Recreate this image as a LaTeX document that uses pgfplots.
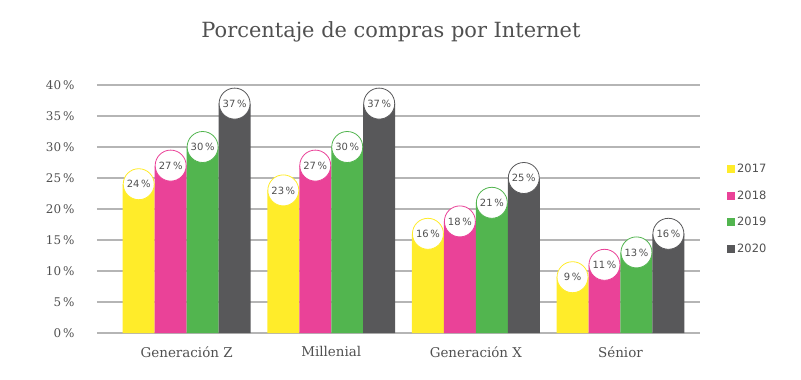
\documentclass[border=0pt]{standalone}
\usepackage{pgfplots}
\pgfplotsset{compat=1.18}
\usepackage{fontspec}
\setmainfont{DejaVu Serif}
\newfontfamily\lblfont{DejaVu Sans}
\definecolor{cY}{HTML}{FFEC2A}
\definecolor{cP}{HTML}{EA4298}
\definecolor{cG}{HTML}{52B54F}
\definecolor{cD}{HTML}{58585A}
\definecolor{txt}{HTML}{505050}
\definecolor{grd}{HTML}{B5B5B5}
\begin{document}
\begin{tikzpicture}
\path[use as bounding box] (-97bp,-47bp) rectangle (704bp,333bp);
\begin{axis}[
  at={(0,0)}, anchor=south west,
  scale only axis, width=603bp, height=248bp,
  xmin=-0.62, xmax=3.55, ymin=0, ymax=40,
  /pgf/number format/assume math mode=true,
  axis line style={draw=none},
  ytick={0,5,...,40},
  yticklabel={\pgfmathprintnumber{\tick}\,\%},
  yticklabel style={font=\fontsize{12}{14}\selectfont, text=txt, xshift=-19bp},
  xtick={0,1,2,3},
  xticklabels={Generación Z, Millenial, Generación X, Sénior},
  xticklabel style={font=\fontsize{13.5}{15}\selectfont, text=txt, yshift=-10bp},
  major tick length=0pt,
  ymajorgrids, grid style={grd, line width=1.2bp},
  clip=false,
  bar width=0.221,
  legend style={at={(1,0.5)}, anchor=west, xshift=24bp, draw=none, fill=none,
    font=\lblfont\fontsize{11.5}{13}\selectfont, text=txt, row sep=12.5bp},
  legend cell align=left,
  legend image code/.code={\fill[#1] (0bp,-4bp) rectangle (8bp,4bp);},
  every node near coord/.append style={anchor=center, font=\lblfont\fontsize{10}{12}\selectfont, text=txt},
]
\addplot[ybar, bar shift=0pt, fill=cY, draw=none] coordinates {(-0.3315,24) (0.6685,23) (1.6685,16) (2.6685,9)};
\addlegendentry{2017}
\addplot[ybar, bar shift=0pt, fill=cP, draw=none] coordinates {(-0.1105,27) (0.8895,27) (1.8895,18) (2.8895,11)};
\addlegendentry{2018}
\addplot[ybar, bar shift=0pt, fill=cG, draw=none] coordinates {(0.1105,30) (1.1105,30) (2.1105,21) (3.1105,13)};
\addlegendentry{2019}
\addplot[ybar, bar shift=0pt, fill=cD, draw=none] coordinates {(0.3315,37) (1.3315,37) (2.3315,25) (3.3315,16)};
\addlegendentry{2020}
\addplot[forget plot, only marks, mark=*, mark size=15.5bp, mark options={fill=white, draw=cY, line width=0.8bp},
  nodes near coords={\pgfmathprintnumber{\pgfplotspointmeta}\,\%}] coordinates {(-0.3315,24) (0.6685,23) (1.6685,16) (2.6685,9)};
\addplot[forget plot, only marks, mark=*, mark size=15.5bp, mark options={fill=white, draw=cP, line width=0.8bp},
  nodes near coords={\pgfmathprintnumber{\pgfplotspointmeta}\,\%}] coordinates {(-0.1105,27) (0.8895,27) (1.8895,18) (2.8895,11)};
\addplot[forget plot, only marks, mark=*, mark size=15.5bp, mark options={fill=white, draw=cG, line width=0.8bp},
  nodes near coords={\pgfmathprintnumber{\pgfplotspointmeta}\,\%}] coordinates {(0.1105,30) (1.1105,30) (2.1105,21) (3.1105,13)};
\addplot[forget plot, only marks, mark=*, mark size=15.5bp, mark options={fill=white, draw=cD, line width=0.8bp},
  nodes near coords={\pgfmathprintnumber{\pgfplotspointmeta}\,\%}] coordinates {(0.3315,37) (1.3315,37) (2.3315,25) (3.3315,16)};
\end{axis}
\node[font=\fontsize{21}{25}\selectfont, text=txt] at (294bp,301bp) {Porcentaje de compras por Internet};
\end{tikzpicture}
\end{document}
